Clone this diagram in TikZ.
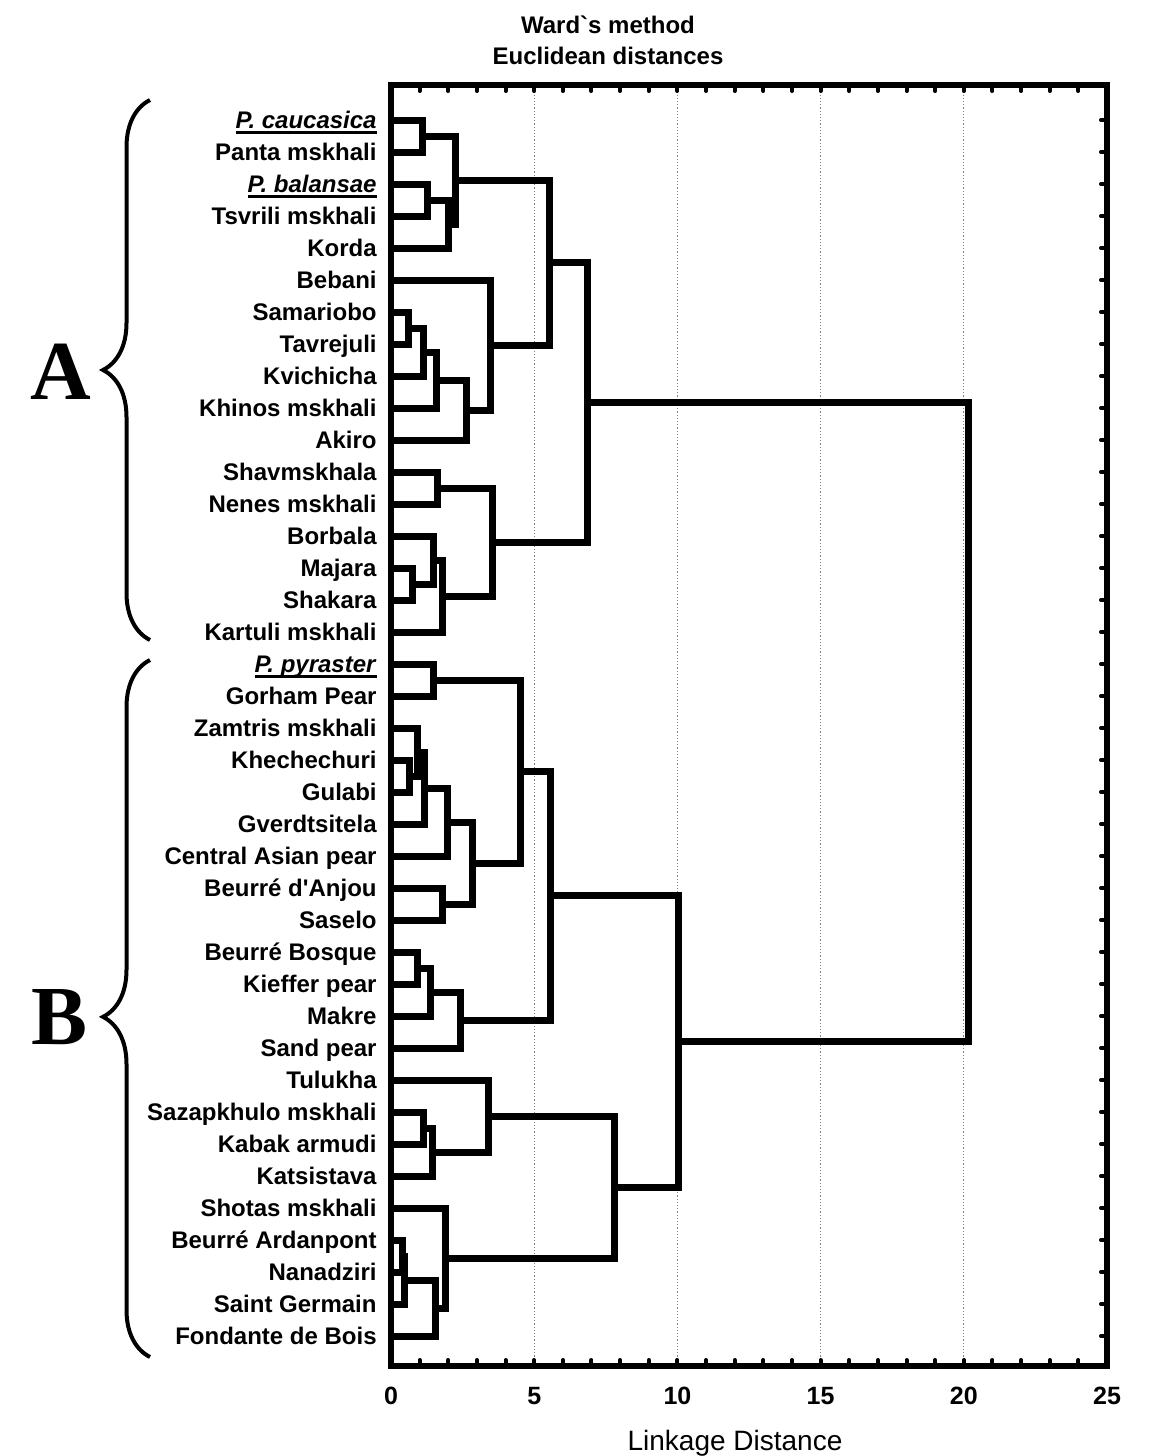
\documentclass[tikz,border=0pt]{standalone}
\usepackage{fontspec}
\setmainfont{Liberation Sans}[Ligatures=TeXOff]
\newfontfamily\bigserif{Liberation Serif}
\usetikzlibrary{decorations.pathreplacing}

\tikzset{
  link/.style={line width=3.5pt, line join=miter},
  leaf/.style={anchor=base east, inner sep=0pt, font=\fontsize{12}{14}\selectfont\bfseries},
  frame/.style={line width=2.75pt},
  gridline/.style={gray, densely dotted, line width=0.6pt},
  tickmark/.style={line width=2pt, line cap=round},
  ticklabel/.style={inner sep=0pt, font=\fontsize{12.5}{14}\selectfont\bfseries},
  grouplabel/.style={inner sep=0pt, font=\fontsize{42}{44}\selectfont\bigserif\bfseries},
  groupbrace/.style={decorate, decoration={brace, amplitude=23.5pt}, line width=2pt},
}

% underlined species name
\newsavebox{\specbox}
\newcommand{\species}[1]{\sbox{\specbox}{\textit{#1}}\rlap{\rule[-2.6pt]{\wd\specbox}{1.3pt}}\usebox{\specbox}}

% draw one merge of the tree: child a -> merge point -> child b
\newcommand{\dlink}[3]{\draw[link] (#2) -| (#1) |- (#3);}

\begin{document}
\begin{tikzpicture}[x=0.5pt, y=-0.5pt]
\useasboundingbox (0,0) rectangle (1149,1456);

% title
\node[font=\fontsize{12}{14}\selectfont\bfseries] (title) at (608,25) {Ward\char96s method};
\node[font=\fontsize{12}{14}\selectfont\bfseries] (subtitle) at (608,56) {Euclidean distances};

% grid
\foreach \k in {5,10,15,20}
  \draw[gridline] (391+28.64*\k,85) -- (391+28.64*\k,1366);

% leaves
\foreach \name [count=\i from 0] in {%
    \species{P. caucasica}, Panta mskhali, \species{P. balansae},
    Tsvrili mskhali, Korda, Bebani, Samariobo, Tavrejuli, Kvichicha, Khinos mskhali,
    Akiro, Shavmskhala, Nenes mskhali, Borbala, Majara, Shakara, Kartuli mskhali,
    \species{P. pyraster}, Gorham Pear, Zamtris mskhali, Khechechuri, Gulabi,
    Gverdtsitela, Central Asian pear, Beurré d'Anjou, Saselo, Beurré Bosque,
    Kieffer pear, Makre, Sand pear, Tulukha, Sazapkhulo mskhali, Kabak armudi,
    Katsistava, Shotas mskhali, Beurré Ardanpont, Nanadziri, Saint Germain,
    Fondante de Bois} {
  \coordinate (l\i) at (391,120+32*\i);
  \node[leaf] (n\i) at (377,128.5+32*\i) {\name};
}

% tree
\foreach \m/\x/\y/\a/\b in {
    m1/422/136/l0/l1, m2/427/200/l2/l3, m3/448/224/m2/l4, m4/455/180/m1/m3,
    m5/408/328/l6/l7, m6/423/352/m5/l8, m7/436/380/m6/l9, m8/466/410/m7/l10,
    m9/490/345/l5/m8, m10/549/262.5/m4/m9,
    m11/437/488/l11/l12, m12/412/584/l14/l15, m13/433/560/l13/m12,
    m14/442/596/m13/l16, m15/492/542/m11/m14, m16/587/402.25/m10/m15,
    m17/433/680/l17/l18, m18/409/776/l20/l21, m19/417/752/l19/m18,
    m20/424/788/m19/l22, m21/447/822/m20/l23, m22/442/904/l24/l25,
    m23/472/863/m21/m22, m24/520/771.5/m17/m23,
    m25/417/968/l26/l27, m26/430/992/m25/l28, m27/460/1020/m26/l29,
    m28/550/895.75/m24/m27,
    m29/423/1128/l31/l32, m30/432/1152/m29/l33, m31/488/1116/l30/m30,
    m32/402/1256/l35/l36, m33/404/1280/m32/l37, m34/435/1308/m33/l38,
    m35/445/1258/l34/m34, m36/614/1187/m31/m35,
    m37/678/1041.4/m28/m36, m38/968/721.8/m16/m37} {
  \coordinate (\m) at (\x,\y);
  \dlink{\m}{\a}{\b}
}

% frame and ticks
\draw[frame] (391,85) rectangle (1107,1366);
\foreach \k in {1,...,24} {
  \draw[tickmark] (391+28.64*\k,87) -- ++(0,4);
  \draw[tickmark] (391+28.64*\k,1364) -- ++(0,-4);
}
\foreach \i in {0,...,38}
  \draw[tickmark] (1105,120+32*\i) -- ++(-4,0);
\foreach \v in {0,5,...,25}
  \node[ticklabel] (t\v) at (391+28.64*\v,1396) {\v};
\node[font=\fontsize{14}{16}\selectfont] (xlabel) at (735,1443) {Linkage Distance};

% groups
\draw[groupbrace] (150,640) -- (150,100);
\draw[groupbrace, decoration={aspect=0.488}] (150,1357) -- (150,660);
\node[grouplabel] (ga) at (61,372) {A};
\node[grouplabel] (gb) at (60,1017) {B};
\end{tikzpicture}
\end{document}
